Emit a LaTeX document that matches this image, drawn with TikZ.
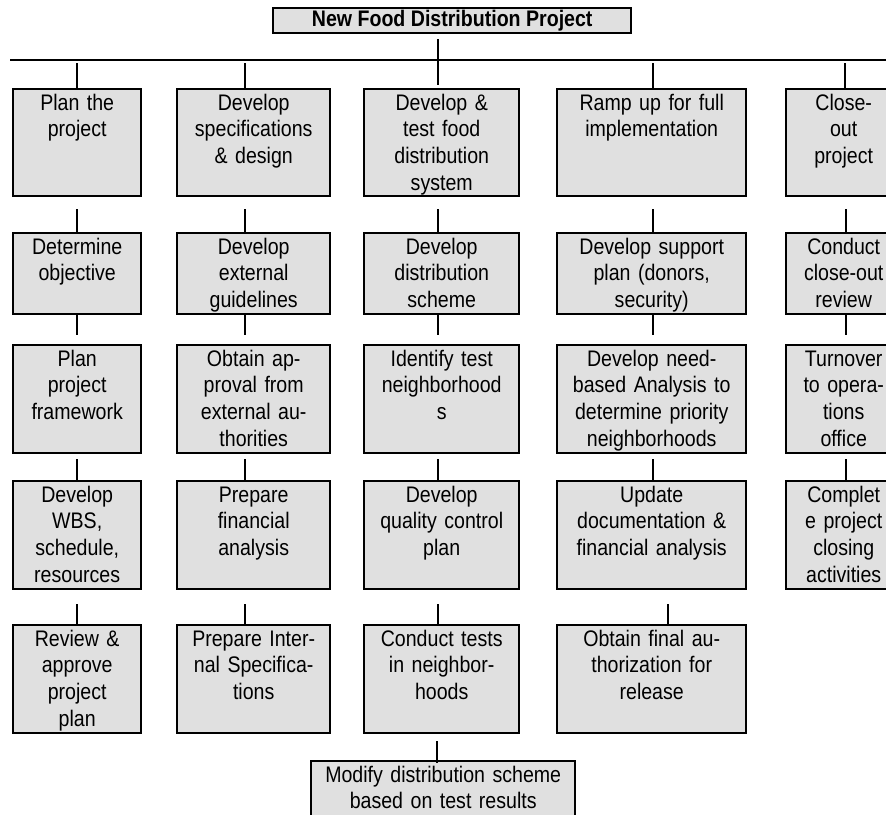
\documentclass[tikz,border=0pt]{standalone}
\usepackage{fontspec}
\setmainfont{Liberation Sans}[FakeStretch=0.87]
\definecolor{boxgray}{RGB}{224,224,224}
\tikzstyle{task}=[draw,fill=boxgray,line width=1.2pt,inner xsep=2pt,inner ysep=0pt,align=center,anchor=north west,text height=10.5pt,font=\fontsize{11.25}{13.35}\selectfont]
\tikzstyle{link}=[line width=0.9pt]
\begin{document}
\begin{tikzpicture}[x=0.5pt,y=-0.5pt,
  colp/.style={text width=60pt},colS/.style={text width=72.5pt},
  colt/.style={text width=73.5pt},colr/.style={text width=90.5pt},
  colc/.style={text width=53.5pt},
  short/.style={text depth=30pt},tall/.style={text depth=43.5pt}]
\path[use as bounding box,clip] (0,0) rectangle (886,814);

% top of the tree
\node[task,anchor=north west,minimum width=179pt,minimum height=12.5pt,text height=,text depth=,
  font=\bfseries\fontsize{11.25}{13.35}\selectfont] (root) at (272,7) {New Food Distribution Project};
\coordinate (busL) at (10,60);
\coordinate (busR) at (890,60);
\draw[line width=1.3pt] (busL) -- (busR);

% plan the project
\node[task,colp,text depth=43pt] (p1) at (12,88) {Plan the\\project};
\node[task,colp,short] (p2) at (12,232) {Determine\\objective};
\node[task,colp,tall] (p3) at (12,344) {Plan\\project\\framework};
\node[task,colp,tall] (p4) at (12,480) {Develop\\WBS,\\schedule,\\resources};
\node[task,colp,tall] (p5) at (12,624) {Review \&\\approve\\project\\plan};

% specifications
\node[task,colS,text depth=43pt] (s1) at (176,88) {Develop\\specifications\\\& design};
\node[task,colS,short] (s2) at (176,232) {Develop\\external\\guidelines};
\node[task,colS,tall] (s3) at (176,344) {Obtain ap-\\proval from\\external au-\\thorities};
\node[task,colS,tall] (s4) at (176,480) {Prepare\\financial\\analysis};
\node[task,colS,tall] (s5) at (176,624) {Prepare Inter-\\nal Specifica-\\tions};

% test system
\node[task,colt,text depth=43pt] (t1) at (363,88) {Develop \&\\test food\\distribution\\system};
\node[task,colt,short] (t2) at (363,232) {Develop\\distribution\\scheme};
\node[task,colt,tall] (t3) at (363,344) {Identify test\\neighborhood\\s};
\node[task,colt,tall] (t4) at (363,480) {Develop\\quality control\\plan};
\node[task,colt,tall] (t5) at (363,624) {Conduct tests\\in neighbor-\\hoods};
\node[task,text width=128pt,text depth=25pt] (t6) at (310,760) {Modify distribution scheme\\based on test results};

% ramp up
\node[task,colr,text depth=43pt] (r1) at (556,88) {Ramp up for full\\implementation};
\node[task,colr,short] (r2) at (556,232) {Develop support\\plan (donors,\\security)};
\node[task,colr,tall] (r3) at (556,344) {Develop need-\\based Analysis to\\determine priority\\neighborhoods};
\node[task,colr,tall] (r4) at (556,480) {Update\\documentation \&\\financial analysis};
\node[task,colr,tall] (r5) at (556,624) {Obtain final au-\\thorization for\\release};

% close-out
\node[task,colc,text depth=43pt] (c1) at (785,88) {Close-\\out\\project};
\node[task,colc,short] (c2) at (785,232) {Conduct\\close-out\\review};
\node[task,colc,tall] (c3) at (785,344) {Turnover\\to opera-\\tions\\office};
\node[task,colc,tall] (c4) at (785,480) {Complet\\e project\\closing\\activities};

% connectors
\draw[link,shorten <=2.5pt,shorten >=1.5pt] ([xshift=-2pt]t1.north |- root.south) -- ([xshift=-2pt]t1.north);
\foreach \col/\dx in {p/0pt,s/-4.25pt,r/0.75pt,c/0.75pt}
  \draw[link,shorten <=1.5pt] ([xshift=\dx]\col1.north |- busL) -- ([xshift=\dx]\col1.north);
\foreach \col/\dx in {p/0pt,s/-4.25pt,t/-1.75pt,r/0.75pt,c/1pt} {
  \draw[link,shorten <=6pt] ([xshift=\dx]\col1.south) -- ([xshift=\dx]\col1.south |- \col2.north);
  \draw[link,shorten <=-1pt,shorten >=4.5pt] ([xshift=\dx]\col2.south) -- ([xshift=\dx]\col2.south |- \col3.north);
  \draw[link,shorten <=2.5pt] ([xshift=\dx]\col3.south) -- ([xshift=\dx]\col3.south |- \col4.north);
}
\foreach \col/\dx in {p/0pt,s/-4.25pt,t/-1.75pt,r/8.25pt}
  \draw[link,shorten <=7pt] ([xshift=\dx]\col4.south) -- ([xshift=\dx]\col4.south |- \col5.north);
\draw[link,shorten <=3.5pt,shorten >=-1.5pt] ([xshift=-2.25pt]t5.south) -- ([xshift=-2.25pt]t5.south |- t6.north);
\end{tikzpicture}
\end{document}
